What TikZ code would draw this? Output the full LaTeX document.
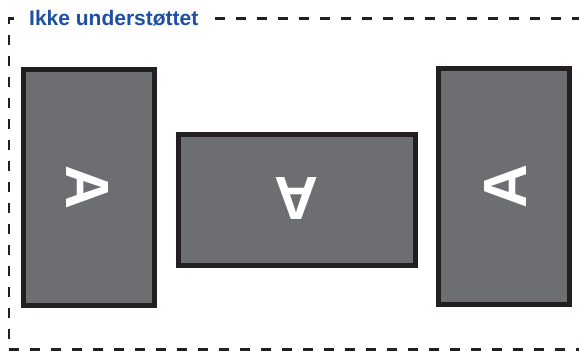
\documentclass[tikz,border=0pt]{standalone}
\usepackage{fontspec}
\setmainfont{Liberation Sans}
\definecolor{titleblue}{HTML}{1E4FA5}
\definecolor{scrgray}{HTML}{6D6E71}
\definecolor{rimblack}{HTML}{231F20}
\definecolor{framegray}{HTML}{231F20}
\tikzset{
  screen/.style={draw=rimblack, line width=5pt, fill=scrgray},
  frameline/.style={draw=framegray, line width=2.5pt, dash pattern=on 10pt off 11pt},
  letter/.style={text=white, inner sep=0pt, text height=43.7pt, text depth=0pt,
    font=\fontsize{61}{61}\selectfont\bfseries},
  title/.style={text=titleblue, inner sep=0pt, anchor=base west,
    font=\fontsize{21}{21}\selectfont\bfseries}
}
\begin{document}
\begin{tikzpicture}[x=1pt,y=-1pt]
\useasboundingbox (0,0) rectangle (579,351);
\begin{scope}
\clip (0,0) rectangle (579,351);
\draw[frameline] (14,18.5) -- (9,18.5) -- (9,349.5) -- (620,349.5);
\draw[frameline] (215,18.5) -- (620,18.5);
\end{scope}
\node[title] (t) at (29,25) {Ikke understøttet};
\draw[screen] (23.5,69.5) rectangle (154.5,305.5);
\draw[screen] (178.5,134.5) rectangle (415.5,265.5);
\draw[screen] (438.5,68.5) rectangle (569.5,304.5);
\node[letter, rotate=-90] (a1) at (88,187.5) {A};
\node[letter, rotate=180] (a2) at (296.5,199.5) {A};
\node[letter, rotate=90] (a3) at (504.5,186) {A};
\end{tikzpicture}
\end{document}
